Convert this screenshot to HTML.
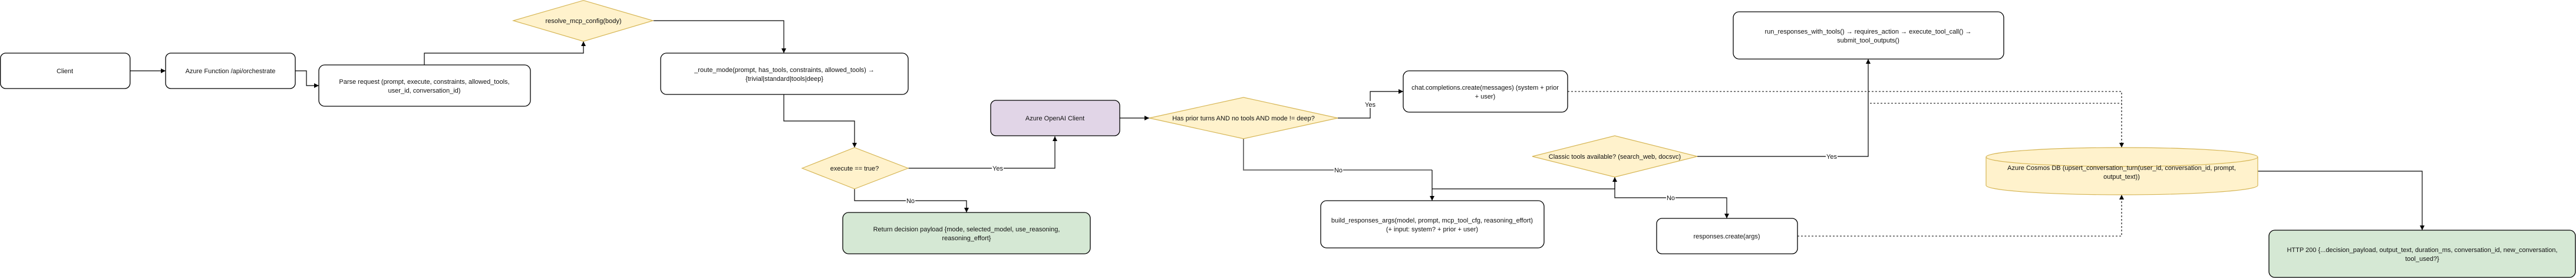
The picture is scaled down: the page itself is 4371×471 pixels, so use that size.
<!DOCTYPE html>
<html><head><meta charset="utf-8"><style>
html,body{margin:0;padding:0;background:#fff;}
svg{display:block;}
text{font-family:"Liberation Sans",Arial,sans-serif;font-size:11px;fill:#111;text-anchor:middle;}
.b{fill:#fff;stroke:#000;stroke-width:1.3;}
.d{fill:#fff2cc;stroke:#d6b656;stroke-width:1.2;}
.l{fill:none;stroke:#000;stroke-width:1.2;}
.ds{fill:none;stroke:#000;stroke-width:1.1;stroke-dasharray:3,3;}
.lb{fill:#fff;}
</style></head><body>
<svg width="4371" height="471" viewBox="0 0 4371 471" xmlns="http://www.w3.org/2000/svg">
<defs><marker id="a" viewBox="0 0 10 10" refX="10" refY="5" markerWidth="8" markerHeight="8" orient="auto-start-reverse" markerUnits="userSpaceOnUse"><path d="M0,0 L10,5 L0,10 z" fill="#000"/></marker></defs>

<!-- connectors -->
<path class="l" d="M221,120 H281" marker-end="url(#a)"/>
<path class="l" d="M501,120 H520 V145 H541" marker-end="url(#a)"/>
<path class="l" d="M720,110 V90 H990 V70" marker-end="url(#a)"/>
<path class="l" d="M1108,35 H1330 V90" marker-end="url(#a)"/>
<path class="l" d="M1330,160 V205 H1450 V250" marker-end="url(#a)"/>
<path class="l" d="M1541,285 H1790 V231" marker-end="url(#a)"/>
<rect class="lb" x="1683" y="279" width="20" height="12"/><text x="1693" y="289">Yes</text>
<path class="l" d="M1450,320 V340 H1640 V360" marker-end="url(#a)"/>
<rect class="lb" x="1537" y="334" width="16" height="12"/><text x="1545" y="344">No</text>
<path class="l" d="M1900,200 H1950" marker-end="url(#a)"/>
<path class="l" d="M2270,200 H2325 V155 H2381" marker-end="url(#a)"/>
<rect class="lb" x="2315" y="171" width="20" height="12"/><text x="2325" y="181">Yes</text>
<path d="M2110,235 V288 H2430" fill="none" stroke="#777" stroke-width="2"/>
<path class="l" d="M2430,288 V340" marker-end="url(#a)"/>
<rect class="lb" x="2263" y="282" width="16" height="12"/><text x="2271" y="292">No</text>
<path class="l" d="M2430,320 H2740 V300" marker-end="url(#a)"/>
<path class="l" d="M2740,300 V335 H2930 V370" marker-end="url(#a)"/>
<rect class="lb" x="2827" y="329" width="16" height="12"/><text x="2835" y="339">No</text>
<path class="l" d="M2880,265 H3170 V100" marker-end="url(#a)"/>
<rect class="lb" x="3098" y="259" width="20" height="12"/><text x="3108" y="269">Yes</text>
<path class="ds" d="M2660,155 H3600 V250" marker-end="url(#a)"/>
<path class="ds" d="M3173,175 H3600"/>
<path class="ds" d="M3050,400 H3600 V330" marker-end="url(#a)"/>
<path class="l" d="M3831,290 H4110 V390" marker-end="url(#a)"/>

<!-- nodes -->
<rect class="b" x="0.7" y="90" width="220" height="60" rx="9"/><text x="110" y="124">Client</text>
<rect class="b" x="281" y="90" width="220" height="60" rx="9"/><text x="391" y="124">Azure Function /api/orchestrate</text>
<rect class="b" x="541" y="110" width="359" height="70" rx="10"/>
<text x="720" y="142">Parse request (prompt, execute, constraints, allowed_tools,</text><text x="720" y="157">user_id, conversation_id)</text>
<polygon class="d" points="871,35 990,0.7 1108,35 990,70"/><text x="990" y="39">resolve_mcp_config(body)</text>
<rect class="b" x="1121" y="90" width="420" height="70" rx="10"/>
<text x="1331" y="122">_route_mode(prompt, has_tools, constraints, allowed_tools) →</text><text x="1331" y="137">{trivial|standard|tools|deep}</text>
<polygon class="d" points="1361,285 1450,250 1541,285 1450,320"/><text x="1450" y="289">execute == true?</text>
<rect x="1681" y="170" width="219" height="60" rx="9" fill="#e1d5e7" stroke="#000" stroke-width="1.3"/><text x="1790" y="204">Azure OpenAI Client</text>
<rect x="1430" y="360" width="420" height="70" rx="10" fill="#d5e8d4" stroke="#000" stroke-width="1.3"/>
<text x="1640" y="392">Return decision payload {mode, selected_model, use_reasoning,</text><text x="1640" y="407">reasoning_effort}</text>
<polygon class="d" points="1950,200 2110,165 2270,200 2110,235"/><text x="2110" y="204">Has prior turns AND no tools AND mode != deep?</text>
<rect class="b" x="2381" y="120" width="279" height="70" rx="10"/>
<text x="2520" y="152">chat.completions.create(messages) (system + prior</text><text x="2520" y="167">+ user)</text>
<rect class="b" x="2941" y="20" width="459" height="80" rx="10"/>
<text x="3170" y="57">run_responses_with_tools() → requires_action → execute_tool_call() →</text><text x="3170" y="72">submit_tool_outputs()</text>
<polygon class="d" points="2600,265 2740,230 2880,265 2740,300"/><text x="2740" y="269">Classic tools available? (search_web, docsvc)</text>
<rect class="b" x="2241" y="340" width="379" height="80" rx="10"/>
<text x="2430" y="377">build_responses_args(model, prompt, mcp_tool_cfg, reasoning_effort)</text><text x="2430" y="392">(+ input: system? + prior + user)</text>
<rect class="b" x="2811" y="370" width="239" height="60" rx="9"/><text x="2930" y="404">responses.create(args)</text>
<path d="M3370,266 A230.5,16 0 0 1 3831,266 V314 A230.5,16 0 0 1 3370,314 Z" class="d"/>
<path d="M3370,266 A230.5,16 0 0 0 3831,266" fill="none" stroke="#d6b656" stroke-width="1.2"/>
<text x="3600" y="288">Azure Cosmos DB (upsert_conversation_turn(user_id, conversation_id, prompt,</text><text x="3600" y="303">output_text))</text>
<rect x="3850" y="390" width="520" height="80" rx="10" fill="#d5e8d4" stroke="#000" stroke-width="1.3"/>
<text x="4110" y="427">HTTP 200 {...decision_payload, output_text, duration_ms, conversation_id, new_conversation,</text><text x="4110" y="442">tool_used?}</text>
</svg>
</body></html>
